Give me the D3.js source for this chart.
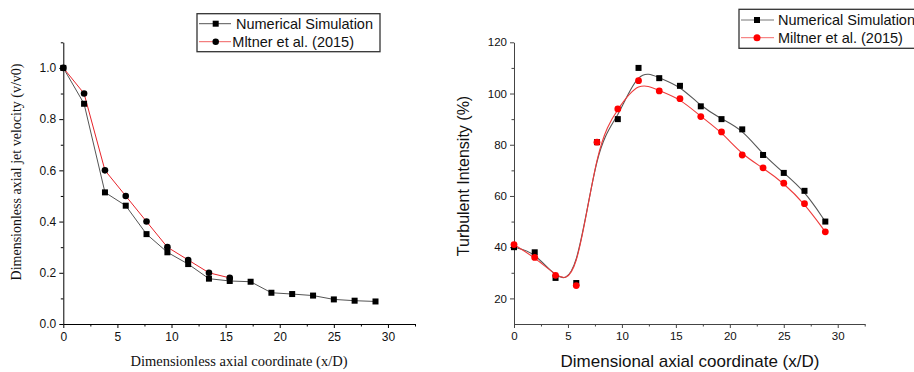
<!DOCTYPE html>
<html>
<head>
<meta charset="utf-8">
<script src="https://cdn.jsdelivr.net/npm/d3@7"></script>
<style>
  body { margin: 0; background: #fff; }
  svg { display: block; }
</style>
</head>
<body>
<svg id="chart" width="914" height="372"></svg>
<script>
// x positions shared by both panels (x/D)
var xPos = [0, 1.92, 3.85, 5.77, 7.69, 9.62, 11.54, 13.46, 15.38, 17.31, 19.23, 21.15, 23.08, 25, 26.92, 28.85];

// left panel: dimensionless axial jet velocity
var velSim = [1.0, 0.86, 0.514, 0.462, 0.351, 0.28, 0.234, 0.177, 0.168, 0.165, 0.122, 0.117, 0.111, 0.096, 0.091, 0.088];
var velExp = [1.0, 0.90, 0.60, 0.50, 0.40, 0.30, 0.25, 0.20, 0.18];

// right panel: turbulent intensity
var tiSim = [40, 38, 28, 26, 81, 90, 110, 106, 103, 95, 90, 86, 76, 69, 62, 50];
var tiExp = [41, 36, 29, 25, 81, 94, 105, 101, 98, 91, 85, 76, 71, 65, 57, 46];

var xMajor = [0, 5, 10, 15, 20, 25, 30];
var xMinor = [2.5, 7.5, 12.5, 17.5, 22.5, 27.5, 32.5];
var velMajor = [0, 0.2, 0.4, 0.6, 0.8, 1.0];
var velMinor = [0.1, 0.3, 0.5, 0.7, 0.9, 1.1];
var tiMajor = [20, 40, 60, 80, 100, 120];
var tiMinor = [30, 50, 70, 90, 110];

var legendNames = ["Numerical Simulation", "Mltner et al. (2015)"];
var legendNames2 = ["Numerical Simulation", "Miltner et al. (2015)"];

var svg = d3.select("#chart");
var sans = "'Liberation Sans', Arial, sans-serif";
var serif = "'Liberation Serif', 'Times New Roman', serif";

function pairs(xs, ys){
    var out = [];
    for(var i = 0; i < ys.length; i++){
        out.push([xs[i], ys[i]]);
    }
    return out;
}

function drawAxes(g, x, y, opt){
    var ax = g.append("g")
        .attr("transform", "translate(0," + y.range()[0] + ")")
        .call(d3.axisBottom(x).tickValues(xMajor).tickSize(4).tickSizeOuter(0).tickFormat(d3.format("d")));
    g.append("g")
        .attr("transform", "translate(0," + y.range()[0] + ")")
        .call(d3.axisBottom(x).tickValues(xMinor).tickSize(2.5).tickSizeOuter(0).tickFormat(""))
        .select(".domain").remove();
    var ay = g.append("g")
        .attr("transform", "translate(" + x.range()[0] + ",0)")
        .call(d3.axisLeft(y).tickValues(opt.yMajor).tickSize(4).tickSizeOuter(0).tickFormat(opt.yFormat));
    g.append("g")
        .attr("transform", "translate(" + x.range()[0] + ",0)")
        .call(d3.axisLeft(y).tickValues(opt.yMinor).tickSize(2.5).tickSizeOuter(0).tickFormat(""))
        .select(".domain").remove();
    g.selectAll(".domain, .tick line").attr("stroke", opt.axisColor).attr("stroke-width", 1);
    g.selectAll(".tick text").attr("fill", "#111").style("font-family", sans).style("font-size", opt.tickFont);
    ax.selectAll(".tick text").attr("dy", "0.71em").attr("y", 8);
    ay.selectAll(".tick text").attr("x", -7);
}

function drawSquares(g, data, x, y, size){
    g.selectAll(null).data(data).enter().append("rect")
        .attr("x", d => x(d[0]) - size / 2)
        .attr("y", d => y(d[1]) - size / 2)
        .attr("width", size).attr("height", size)
        .attr("fill", "#000");
}

function drawCircles(g, data, x, y, r, color){
    g.selectAll(null).data(data).enter().append("circle")
        .attr("cx", d => x(d[0]))
        .attr("cy", d => y(d[1]))
        .attr("r", r)
        .attr("fill", color);
}

function drawLegend(g, box, rows, names, textX){
    g.append("rect")
        .attr("x", box[0]).attr("y", box[1]).attr("width", box[2]).attr("height", box[3])
        .attr("fill", "#fff").attr("stroke", "#333").attr("stroke-width", 1.3);
    rows.forEach(function(r, i){
        g.append("line")
            .attr("x1", r.x1).attr("x2", r.x2).attr("y1", r.y).attr("y2", r.y)
            .attr("stroke", r.line).attr("stroke-width", 1);
        if(r.kind == "sq"){
            g.append("rect").attr("x", r.mx - r.s / 2).attr("y", r.y - r.s / 2)
                .attr("width", r.s).attr("height", r.s).attr("fill", "#000");
        } else {
            g.append("circle").attr("cx", r.mx).attr("cy", r.y).attr("r", r.s / 2).attr("fill", r.fill);
        }
        g.append("text")
            .attr("x", textX[i]).attr("y", r.y + 5.2)
            .style("font-family", sans).style("font-size", "14.5px").attr("fill", "#111")
            .text(names[i]);
    });
}

// ---------- left panel ----------
var gL = svg.append("g");
var xL = d3.scaleLinear().domain([0, 32.5]).range([63.3, 415]);
var yL = d3.scaleLinear().domain([0, 1.1]).range([324, 42.3]);

drawAxes(gL, xL, yL, {yMajor: velMajor, yMinor: velMinor, yFormat: d3.format(".1f"), axisColor: "#000", tickFont: "12px"});

var lineL = d3.line().x(d => xL(d[0])).y(d => yL(d[1]));
gL.append("path").datum(pairs(xPos, velSim)).attr("d", lineL)
    .attr("fill", "none").attr("stroke", "#555").attr("stroke-width", 1);
gL.append("path").datum(pairs(xPos, velExp)).attr("d", lineL)
    .attr("fill", "none").attr("stroke", "#e8232a").attr("stroke-width", 1);
drawCircles(gL, pairs(xPos, velExp), xL, yL, 3.3, "#000");
drawSquares(gL, pairs(xPos, velSim), xL, yL, 6);

gL.append("text")
    .attr("transform", "translate(21,172) rotate(-90)")
    .attr("text-anchor", "middle")
    .style("font-family", serif).style("font-size", "14px").attr("fill", "#111")
    .text("Dimensionless axial jet velocity (v/v0)");
gL.append("text")
    .attr("x", 239).attr("y", 366)
    .attr("text-anchor", "middle")
    .style("font-family", serif).style("font-size", "14.5px").attr("fill", "#111")
    .text("Dimensionless axial coordinate (x/D)");

drawLegend(gL, [197, 13.7, 183, 38], [
    {x1: 199, x2: 231, y: 23.7, mx: 215.7, line: "#555", kind: "sq", s: 6},
    {x1: 199, x2: 231, y: 41.7, mx: 215.7, line: "#f06060", kind: "ci", s: 6.5, fill: "#000"}
], legendNames, [236, 232.3]);

// ---------- right panel ----------
var gR = svg.append("g");
var xR = d3.scaleLinear().domain([0, 32.5]).range([514, 864.7]);
var yR = d3.scaleLinear().domain([10, 120]).range([324, 42.3]);

drawAxes(gR, xR, yR, {yMajor: tiMajor, yMinor: tiMinor, yFormat: d3.format("d"), axisColor: "#444", tickFont: "11.5px"});

var curveR = d3.line().curve(d3.curveBasis).x(d => xR(d[0])).y(d => yR(d[1]));
gR.append("path").datum(pairs(xPos, tiSim)).attr("d", curveR)
    .attr("fill", "none").attr("stroke", "#555").attr("stroke-width", 1.1);
gR.append("path").datum(pairs(xPos, tiExp)).attr("d", curveR)
    .attr("fill", "none").attr("stroke", "#ee3b3b").attr("stroke-width", 1.1);
drawSquares(gR, pairs(xPos, tiSim), xR, yR, 6);
drawCircles(gR, pairs(xPos, tiExp), xR, yR, 3.4, "#ff0000");

gR.append("text")
    .attr("transform", "translate(469,176) rotate(-90)")
    .attr("text-anchor", "middle")
    .style("font-family", sans).style("font-size", "16px").attr("fill", "#111")
    .text("Turbulent Intensity (%)");
gR.append("text")
    .attr("x", 690).attr("y", 367)
    .attr("text-anchor", "middle")
    .style("font-family", sans).style("font-size", "17px").attr("fill", "#111")
    .text("Dimensional axial coordinate (x/D)");

drawLegend(gR, [739, 9.3, 200, 39], [
    {x1: 741, x2: 774, y: 20, mx: 757, line: "#777", kind: "sq", s: 6},
    {x1: 741, x2: 774, y: 37.7, mx: 757, line: "#f46a6a", kind: "ci", s: 7, fill: "#ff0000"}
], legendNames2, [778, 778]);
</script>
</body>
</html>
